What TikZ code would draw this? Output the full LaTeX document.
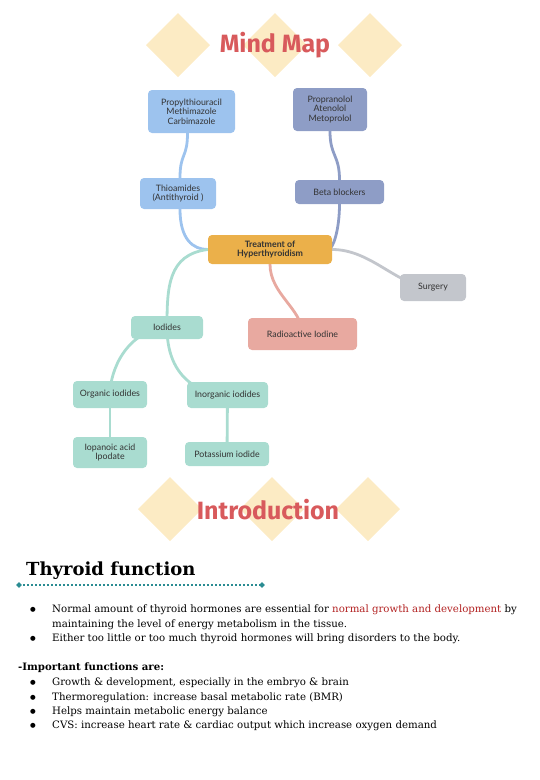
\documentclass[tikz,border=0pt]{standalone}
\usepackage{fontspec}
\setmainfont{DejaVu Serif}
\newfontfamily\boxfont{Lato}
\newfontfamily\titlefont{Fira Sans}
\usetikzlibrary{shapes.geometric}
\pgfdeclarelayer{bg}
\pgfdeclarelayer{bgg}
\pgfsetlayers{bgg,bg,main}
\definecolor{dia}{HTML}{FCEBC4}
\definecolor{ttl}{HTML}{D85A5C}
\definecolor{lblue}{HTML}{9DC3EE}
\definecolor{sblue}{HTML}{8E9DC6}
\definecolor{orng}{HTML}{EBB04A}
\definecolor{gry}{HTML}{C3C6CC}
\definecolor{pnk}{HTML}{E8A9A0}
\definecolor{teal}{HTML}{A9DCD0}
\definecolor{dteal}{HTML}{2A8C92}
\definecolor{hred}{HTML}{B22222}
\begin{document}
\begin{tikzpicture}[x=1pt,y=-1pt,
  bx/.style={rounded corners=4pt, inner sep=1pt, align=center, font=\boxfont\fontsize{8.8}{9.6}\selectfont, text=black!80},
  lnk/.style={line width=2.8pt, line cap=round},
  body/.style={anchor=base west, inner sep=0pt, font=\fontsize{10.2}{12}\selectfont},
  bul/.style={anchor=base, inner sep=0pt, font=\fontsize{6.5}{8}\selectfont}]
\useasboundingbox (0,0) rectangle (540,780);
% diamonds top
\begin{pgfonlayer}{bgg}
\foreach \c in {178,275,370}{
  \fill[dia] (\c,13) -- (\c+32,45) -- (\c,77) -- (\c-32,45) -- cycle;}
\foreach \c in {170,272,368}{
  \fill[dia] (\c,477) -- (\c+32,509) -- (\c,541) -- (\c-32,509) -- cycle;}
\end{pgfonlayer}
\node[font=\titlefont\bfseries\fontsize{25}{28}\selectfont, text=ttl] (mm) at (275,45) {Mind Map};
% nodes
\node[bx, fill=lblue, minimum width=87pt, minimum height=43pt] (pty) at (191.5,111.5) {Propylthiouracil\\Methimazole\\Carbimazole};
\node[bx, fill=lblue, minimum width=76pt, minimum height=31pt] (thio) at (178,193.5) {Thioamides\\(Antithyroid )};
\node[bx, fill=sblue, minimum width=74pt, minimum height=43pt] (prop) at (330,109.5) {Propranolol\\Atenolol\\Metoprolol};
\node[bx, fill=sblue, minimum width=89pt, minimum height=24pt] (beta) at (339.5,192) {Beta blockers};
\node[bx, fill=orng, minimum width=124pt, minimum height=29pt, font=\boxfont\bfseries\fontsize{8.8}{9.6}\selectfont] (trt) at (270,249.5) {Treatment of\\Hyperthyroidism};
\node[bx, fill=gry, minimum width=66pt, minimum height=27pt] (surg) at (433,287.5) {Surgery};
\node[bx, fill=pnk, minimum width=109pt, minimum height=32pt] (rad) at (302.5,334) {Radioactive Iodine};
\node[bx, fill=teal, minimum width=72pt, minimum height=23pt] (iod) at (167,327.5) {Iodides};
\node[bx, fill=teal, minimum width=74pt, minimum height=27pt] (org) at (110,394.5) {Organic iodides};
\node[bx, fill=teal, minimum width=81pt, minimum height=26pt] (inorg) at (227.5,395) {Inorganic iodides};
\node[bx, fill=teal, minimum width=74pt, minimum height=31pt] (iop) at (110,452.5) {Iopanoic acid\\Ipodate};
\node[bx, fill=teal, minimum width=84pt, minimum height=24pt] (pot) at (227,454) {Potassium iodide};
% connectors
\begin{pgfonlayer}{bg}
\draw[lnk, lblue] ([xshift=-4pt]pty.south) .. controls +(0,25) and +(0,-25) .. ([xshift=2pt]thio.north);
\draw[lnk, lblue] ([xshift=2pt]thio.south) .. controls +(0,30) and +(-15,0) .. (trt.west);
\draw[lnk, sblue] (prop.south) .. controls +(0,25) and +(0,-25) .. (beta.north);
\draw[lnk, sblue] (beta.south) .. controls +(0,25) and +(5,0) .. ([xshift=-4pt]trt.east);
\draw[lnk, gry] (trt.east) .. controls +(40,0) and +(-35,0) .. (surg.center);
\draw[lnk, pnk] (trt.south) .. controls +(0,30) and +(0,-25) .. (rad.center);
\draw[lnk, teal] (trt.west) .. controls +(-40,5) and +(0,-40) .. (iod.center);
\draw[lnk, teal] (iod.center) .. controls +(-40,3) and +(0,-25) .. (org.center);
\draw[lnk, teal] (iod.center) .. controls +(0,60) and +(-15,0) .. (inorg.center);
\draw[lnk, teal] (org.center) -- (iop.center);
\draw[lnk, teal] (inorg.center) -- (pot.center);
\end{pgfonlayer}
\node[font=\titlefont\bfseries\fontsize{25}{28}\selectfont, text=ttl] (intro) at (268,510) {Introduction};
% heading
\node[anchor=base west, inner sep=0pt, font=\bfseries\fontsize{18}{20}\selectfont] (tf) at (26,575) {Thyroid function};
\node[diamond, fill=dteal, inner sep=0pt, minimum size=6pt] (dld) at (19,585) {};
\node[diamond, fill=dteal, inner sep=0pt, minimum size=6pt] (drd) at (262,585) {};
\begin{pgfonlayer}{bg}
\draw[dteal, line width=1.2pt, dash pattern=on 2pt off 2pt] (dld.center) -- (drd.center);
\end{pgfonlayer}
% bullets
\node[bul] (b1) at (33,611) {●};
\node[body] (t1) at (52,612) {Normal amount of thyroid hormones are essential for \textcolor{hred}{normal growth and development} by};
\node[body] (t1b) at (52,627) {maintaining the level of energy metabolism in the tissue.};
\node[bul] (b2) at (33,640) {●};
\node[body] (t2) at (52,641) {Either too little or too much thyroid hormones will bring disorders to the body.};
\node[body, font=\bfseries\fontsize{10.2}{12}\selectfont] (imp) at (18,670) {-Important functions are:};
\node[bul] (b3) at (33,684) {●};
\node[body] (t3) at (52,685) {Growth \& development, especially in the embryo \& brain};
\node[bul] (b4) at (33,699) {●};
\node[body] (t4) at (52,700) {Thermoregulation: increase basal metabolic rate (BMR)};
\node[bul] (b5) at (33,713) {●};
\node[body] (t5) at (52,714) {Helps maintain metabolic energy balance};
\node[bul] (b6) at (33,727) {●};
\node[body] (t6) at (52,728) {CVS: increase heart rate \& cardiac output which increase oxygen demand};
\end{tikzpicture}
\end{document}
